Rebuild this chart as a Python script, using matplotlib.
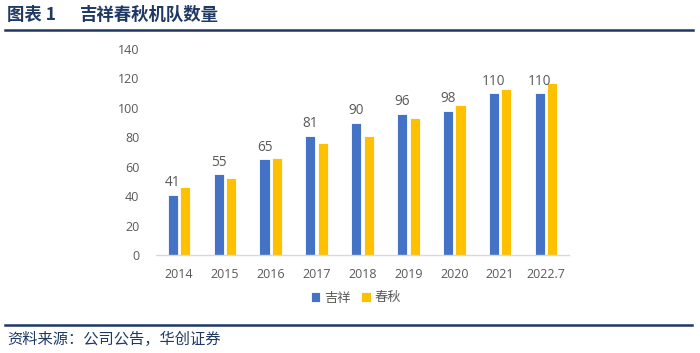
import matplotlib
matplotlib.use("Agg")
import matplotlib.pyplot as plt
import numpy as np

plt.rcParams['font.family'] = ['Noto Sans CJK SC', 'DejaVu Sans']

categories = ["2014", "2015", "2016", "2017", "2018", "2019", "2020", "2021", "2022.7"]
jixiang = [41, 55, 65, 81, 90, 96, 98, 110, 110]
chunqiu = [46, 52, 66, 76, 81, 93, 102, 113, 117]
series_names = ["吉祥", "春秋"]
yticks = [0, 20, 40, 60, 80, 100, 120, 140]

blue = "#4472C4"
yellow = "#FFC000"
gray = "#595959"
navy = "#1F3864"
numfont = ['Open Sans', 'DejaVu Sans']

fig = plt.figure(figsize=(7.0, 3.53), dpi=100)
ax = fig.add_axes([156/700, 1-255/353, 413/700, 206/353])

x = np.arange(len(categories))
w = 0.22
off = 0.135
b1 = ax.bar(x - off, jixiang, width=w, color=blue, edgecolor="white", linewidth=0.6, label=series_names[0])
b2 = ax.bar(x + off, chunqiu, width=w, color=yellow, edgecolor="white", linewidth=0.6, label=series_names[1])

for xi, v in zip(x, jixiang):
    ax.text(xi - off, v + 3, str(v), ha="center", va="bottom", fontsize=9.8,
            color=gray, family=numfont)

ax.set_xlim(-0.5, len(categories) - 0.5)
ax.set_ylim(0, 140)
ax.set_yticks(yticks)
ax.set_xticks(x)
ax.set_xticklabels(categories)
ax.tick_params(axis="both", length=0, labelsize=9, colors=gray)
ax.tick_params(axis="y", pad=12)
ax.tick_params(axis="x", pad=9)
for lab in ax.get_xticklabels() + ax.get_yticklabels():
    lab.set_family(numfont)
for s in ["top", "right", "left"]:
    ax.spines[s].set_visible(False)
ax.spines["bottom"].set_color("#D9D9D9")
ax.spines["bottom"].set_linewidth(1.0)

leg = fig.legend(handles=[b1, b2], labels=series_names, loc="center",
                 bbox_to_anchor=(356/700, 1-298/353), ncol=2, frameon=False,
                 fontsize=9.5, handlelength=0.7, handleheight=0.7, handletextpad=0.3,
                 columnspacing=0.8)
for t in leg.get_texts():
    t.set_color(gray)

# Title and decorative lines
fig.text(7/700, 1-15/353, "图表 1", fontsize=12.5, fontweight="bold",
         color=navy, ha="left", va="center")
fig.text(80/700, 1-15/353, "吉祥春秋机队数量", fontsize=12.5, fontweight="bold",
         color=navy, ha="left", va="center")
fig.add_artist(plt.Line2D([5/700, 693/700], [1-29.5/353, 1-29.5/353], color=navy, linewidth=1.8))
fig.add_artist(plt.Line2D([5/700, 692/700], [1-325/353, 1-325/353], color=navy, linewidth=1.8))
fig.text(7/700, 1-339/353, "资料来源：公司公告，华创证券", fontsize=11, style="italic",
         color=navy, ha="left", va="center")

fig.savefig("out.png", dpi=100)
